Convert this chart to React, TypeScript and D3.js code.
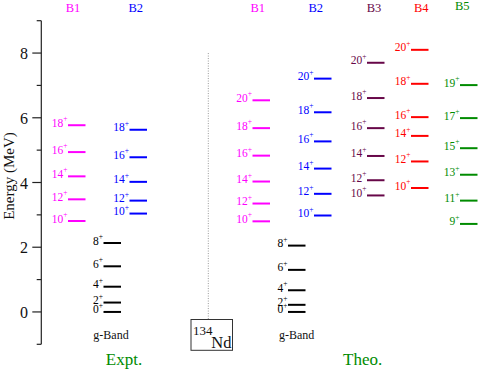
import React from 'react';
import * as d3 from 'd3';

// level energies (MeV)
const exptGSpins = [0, 2, 4, 6, 8];
const exptGEnergy = [0, 0.29, 0.78, 1.41, 2.13];
const exptB1Spins = [10, 12, 14, 16, 18];
const exptB1Energy = [2.81, 3.48, 4.19, 4.94, 5.77];
const exptB2Spins = [10, 12, 14, 16, 18];
const exptB2Energy = [3.04, 3.44, 4.02, 4.78, 5.63];

const theoGSpins = [0, 2, 4, 6, 8];
const theoGEnergy = [0, 0.22, 0.67, 1.3, 2.05];
const theoB1Spins = [10, 12, 14, 16, 18, 20];
const theoB1Energy = [2.8, 3.35, 4.03, 4.83, 5.68, 6.54];
const theoB2Spins = [10, 12, 14, 16, 18, 20];
const theoB2Energy = [2.98, 3.65, 4.43, 5.27, 6.17, 7.21];
const theoB3Spins = [10, 12, 14, 16, 18, 20];
const theoB3Energy = [3.6, 4.07, 4.82, 5.68, 6.61, 7.7];
const theoB4Spins = [10, 12, 14, 16, 18, 20];
const theoB4Energy = [3.83, 4.65, 5.44, 6.02, 7.05, 8.1];
const theoB5Spins = [9, 11, 13, 15, 17, 19];
const theoB5Energy = [2.72, 3.44, 4.24, 5.06, 5.99, 7.01];

const majorTicks = [0, 2, 4, 6, 8];
const minorTicks = [-1, 1, 3, 5, 7, 9];

const bands = [
  { key: 'eB1', name: 'B1', color: '#ff00ff', spins: exptB1Spins, energy: exptB1Energy },
  { key: 'eG', name: '', color: '#000000', spins: exptGSpins, energy: exptGEnergy },
  { key: 'eB2', name: 'B2', color: '#0000ff', spins: exptB2Spins, energy: exptB2Energy },
  { key: 'tB1', name: 'B1', color: '#ff00ff', spins: theoB1Spins, energy: theoB1Energy },
  { key: 'tG', name: '', color: '#000000', spins: theoGSpins, energy: theoGEnergy },
  { key: 'tB2', name: 'B2', color: '#0000ff', spins: theoB2Spins, energy: theoB2Energy },
  { key: 'tB3', name: 'B3', color: '#670748', spins: theoB3Spins, energy: theoB3Energy },
  { key: 'tB4', name: 'B4', color: '#ff0000', spins: theoB4Spins, energy: theoB4Energy },
  { key: 'tB5', name: 'B5', color: '#008b00', spins: theoB5Spins, energy: theoB5Energy },
];

// layout: column start, and header label centre
const colStart = d3.scaleOrdinal<string, number>()
  .domain(bands.map(b => b.key))
  .range([68, 103.5, 129.5, 252.5, 288, 314, 367, 411, 460]);
const headX = d3.scaleOrdinal<string, number>()
  .domain(bands.map(b => b.key))
  .range([73, 0, 135.7, 257.7, 0, 315.7, 374, 421.3, 462.3]);

const W = 479;
const H = 372;
const axisX = 41.3;
const lineLen = 17.5;
const serif = "'Liberation Serif', serif";

export default function App() {
  const y = d3.scaleLinear().domain([-1, 9]).range([344.3, 20.7]);

  return (
    <div style={{ position: 'fixed', left: 0, top: 0 }}>
      <svg width={W} height={H} style={{ display: 'block', background: '#fff', fontFamily: serif }}>
        {/* y axis */}
        <line x1={axisX} x2={axisX} y1={y(9)} y2={y(-1)} stroke="#222" strokeWidth={1.2} />
        {majorTicks.map(t => (
          <g key={'M' + t}>
            <line x1={axisX - 9} x2={axisX} y1={y(t)} y2={y(t)} stroke="#222" strokeWidth={1.2} />
            <text x={28} y={y(t) + 6} textAnchor="end" fontSize={16} fill="#111">{t}</text>
          </g>
        ))}
        {minorTicks.map(t => (
          <line key={'m' + t} x1={axisX - 4.6} x2={axisX} y1={y(t)} y2={y(t)} stroke="#222" strokeWidth={1.2} />
        ))}
        <text transform={`translate(13.5,${(y(4.2)).toFixed(1)}) rotate(-90)`} textAnchor="middle" fontSize={15} fill="#111">Energy (MeV)</text>

        {/* separator + nucleus box */}
        <line x1={208.3} x2={208.3} y1={y(8)} y2={319.5} stroke="#999" strokeWidth={1} strokeDasharray="1,1.5" />
        <rect x={191} y={319.5} width={41.5} height={30.8} fill="#fff" stroke="#333" strokeWidth={1} />
        <text x={193} y={334.5} fontSize={13} fill="#111">134</text>
        <text x={231.5} y={347.5} textAnchor="end" fontSize={16.5} fill="#111">Nd</text>

        {/* bands */}
        {bands.map(b => {
          const x0 = colStart(b.key);
          return (
            <g key={b.key}>
              {b.name && (
                <text x={headX(b.key)} y={b.key === 'tB5' ? 10.3 : 11.7} textAnchor="middle" fontSize={12.5} fill={b.color}>{b.name}</text>
              )}
              {b.energy.map((e, i) => (
                <g key={i}>
                  <line x1={x0} x2={x0 + lineLen} y1={y(e)} y2={y(e)} stroke={b.color} strokeWidth={2} />
                  <text x={x0 - 0.5} y={y(e) + 1.5} textAnchor="end" fontSize={11.5} fill={b.color}>
                    {b.spins[i]}
                    <tspan dy={-5.5} fontSize={7.5}>+</tspan>
                  </text>
                </g>
              ))}
            </g>
          );
        })}

        <text x={111} y={339.3} textAnchor="middle" fontSize={12} fill="#111">g-Band</text>
        <text x={296.7} y={339.3} textAnchor="middle" fontSize={12} fill="#111">g-Band</text>
        <text x={124} y={364.5} textAnchor="middle" fontSize={17} fill="#008b00">Expt.</text>
        <text x={362.7} y={364.5} textAnchor="middle" fontSize={17} fill="#008b00">Theo.</text>
      </svg>
    </div>
  );
}
